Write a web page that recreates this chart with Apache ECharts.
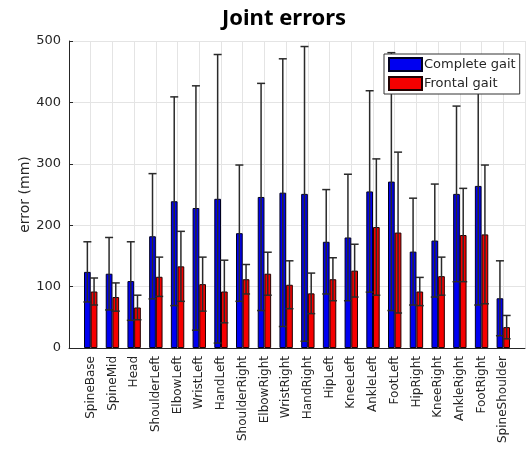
<!DOCTYPE html>
<html>
<head>
<meta charset="utf-8">
<script src="https://cdn.jsdelivr.net/npm/echarts@6/dist/echarts.min.js"></script>
<style>
  html, body { margin: 0; padding: 0; background: #fff; }
  #chart { width: 531px; height: 454px; }
</style>
</head>
<body>
<div id="chart"></div>
<script>
// Joint names along the x axis
const joints = ['SpineBase', 'SpineMid', 'Head', 'ShoulderLeft', 'ElbowLeft', 'WristLeft',
  'HandLeft', 'ShoulderRight', 'ElbowRight', 'WristRight', 'HandRight', 'HipLeft',
  'KneeLeft', 'AnkleLeft', 'FootLeft', 'HipRight', 'KneeRight', 'AnkleRight',
  'FootRight', 'SpineShoulder'];

// Mean error (mm) and standard deviation per joint
const completeMean = [124, 121, 109, 182, 239, 228, 243, 187, 246, 253, 251, 173, 180, 255, 271, 157, 175, 251, 264, 81];
const completeStd  = [49, 59, 64, 102, 170, 199, 235, 111, 185, 218, 240, 85, 103, 164, 210, 87, 92, 143, 194, 61];
const frontalMean  = [92, 83, 66, 116, 133, 104, 92, 112, 121, 103, 89, 112, 126, 197, 188, 92, 117, 184, 185, 34];
const frontalStd   = [22, 23, 20, 32, 57, 44, 51, 24, 35, 39, 33, 35, 43, 111, 131, 23, 31, 76, 113, 19];

// y axis ticks
const yTicks = [0, 100, 200, 300, 400, 500];

const BAR_W = 6.7;
const FONT = 'DejaVu Sans';
const INK = '#262626';

// one empty slot on each side of the joints
const xCategories = [' ', ...joints, '  '];

function errorBars(name, means, stds, side) {
  return {
    type: 'custom',
    name: name,
    z: 3,
    data: joints.map((j, i) => [j, means[i] - stds[i], means[i] + stds[i]]),
    encode: { x: 0, y: [1, 2] },
    renderItem: function (params, api) {
      const idx = api.value(0);
      const lo = api.coord([idx, api.value(1)]);
      const hi = api.coord([idx, api.value(2)]);
      const cx = lo[0] + side * BAR_W / 2;
      const cap = 4;
      const style = { stroke: '#2a2a2a', lineWidth: 1.5 };
      return {
        type: 'group',
        children: [
          { type: 'line', shape: { x1: cx, y1: lo[1], x2: cx, y2: hi[1] }, style: style },
          { type: 'line', shape: { x1: cx - cap, y1: hi[1], x2: cx + cap, y2: hi[1] }, style: style },
          { type: 'line', shape: { x1: cx - cap, y1: lo[1], x2: cx + cap, y2: lo[1] }, style: style }
        ]
      };
    }
  };
}

const chart = echarts.init(document.getElementById('chart'), null, { renderer: 'canvas' });
chart.setOption({
  animation: false,
  backgroundColor: '#fff',
  title: {
    text: 'Joint errors',
    left: 217,
    top: 3,
    textStyle: { fontFamily: 'Noto Sans', fontWeight: 'bold', fontSize: 22, color: '#000' }
  },
  legend: {
    data: ['Complete gait', 'Frontal gait'],
    orient: 'vertical',
    left: 384,
    top: 54,
    icon: 'rect',
    itemWidth: 33,
    itemHeight: 13,
    itemGap: 4,
    padding: [3, 4, 3, 4],
    backgroundColor: '#fff',
    borderColor: '#333',
    borderWidth: 1,
    z: 10,
    textStyle: { fontFamily: FONT, fontSize: 13, color: INK, padding: [0, 0, 0, -3] }
  },
  grid: { left: 69, right: -2, top: 41, bottom: 106, containLabel: false },
  xAxis: {
    type: 'category',
    data: xCategories,
    boundaryGap: false,
    axisLine: { lineStyle: { color: INK, width: 1 } },
    axisTick: { show: false },
    axisLabel: {
      interval: 0, rotate: 90, margin: 8,
      fontFamily: FONT, fontSize: 12, color: INK
    },
    splitLine: { show: true, lineStyle: { color: '#e4e4e4', width: 1 } }
  },
  yAxis: {
    type: 'value',
    min: yTicks[0],
    max: yTicks[yTicks.length - 1],
    interval: 100,
    name: 'error (mm)',
    nameLocation: 'middle',
    nameGap: 37,
    nameMoveOverlap: false,
    nameTextStyle: { fontFamily: FONT, fontSize: 14, color: INK },
    axisLine: { show: true, lineStyle: { color: INK, width: 1 } },
    axisTick: { show: true, inside: true, length: 4, lineStyle: { color: INK } },
    axisLabel: { fontFamily: FONT, fontSize: 13, color: INK, margin: 8 },
    splitLine: { show: true, lineStyle: { color: '#e4e4e4', width: 1 } }
  },
  series: [
    {
      name: 'Complete gait',
      type: 'bar',
      barWidth: BAR_W,
      barGap: '0%',
      data: joints.map((j, i) => [j, completeMean[i]]),
      itemStyle: { color: '#0000f0', borderColor: '#000020', borderWidth: 1 }
    },
    {
      name: 'Frontal gait',
      type: 'bar',
      barWidth: BAR_W,
      barGap: '0%',
      data: joints.map((j, i) => [j, frontalMean[i]]),
      itemStyle: { color: '#f50000', borderColor: '#200000', borderWidth: 1 }
    },
    errorBars('Complete gait spread', completeMean, completeStd, -1),
    errorBars('Frontal gait spread', frontalMean, frontalStd, 1)
  ]
});
</script>
</body>
</html>
